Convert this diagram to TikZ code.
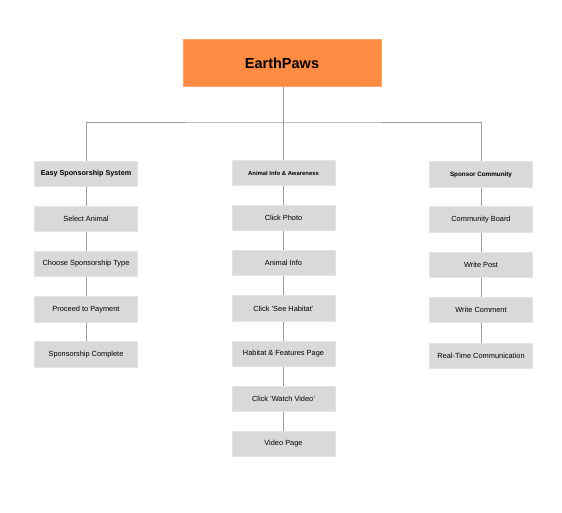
\documentclass[tikz,border=0pt]{standalone}
\usepackage{fontspec}
\setmainfont{Liberation Sans}
\definecolor{rootfill}{HTML}{FF8C42}
\definecolor{boxfill}{HTML}{D9D9D9}
\definecolor{boxline}{HTML}{E4E4E4}
\definecolor{conn}{HTML}{9A9A9A}
\newcommand{\sq}{{\char39}}
\begin{document}
\begin{tikzpicture}[x=1pt,y=-1pt,
  rootbox/.style={fill=rootfill,draw=rootfill!80!white,line width=0.6pt,minimum width=198pt,minimum height=47.5pt,inner sep=0pt,font=\fontsize{14.5}{16}\selectfont\bfseries},
  headbox/.style={fill=boxfill,draw=boxline,line width=0.6pt,minimum width=103pt,minimum height=25.5pt,inner sep=0pt,font=\fontsize{7.2}{8}\selectfont\bfseries},
  stepbox/.style={fill=boxfill,draw=boxline,line width=0.6pt,minimum width=103pt,minimum height=25.5pt,inner sep=0pt,font=\fontsize{7.4}{8}\selectfont},
  link/.style={draw=conn,line width=0.7pt}]
\useasboundingbox (0,0) rectangle (562,512);
\node[rootbox] (root) at (282,63) {EarthPaws};
\coordinate (bus) at (283,122);
% headers
\node[headbox] (h1) at (86,174) {Easy Sponsorship System};
\node[headbox,font=\fontsize{5.9}{7}\selectfont\bfseries] (h2) at (283.5,173) {Animal Info \& Awareness};
\node[headbox,font=\fontsize{6.3}{7}\selectfont\bfseries] (h3) at (481,174.5) {Sponsor Community};
% left column
\node[stepbox] (l1) at (86,219) {Select Animal};
\node[stepbox] (l2) at (86,264) {Choose Sponsorship Type};
\node[stepbox] (l3) at (86,309.5) {Proceed to Payment};
\node[stepbox] (l4) at (86,354.5) {Sponsorship Complete};
% middle column
\node[stepbox] (m1) at (283.5,218) {Click Photo};
\node[stepbox] (m2) at (283.5,263) {Animal Info};
\node[stepbox] (m3) at (283.5,308.5) {Click \sq See Habitat\sq};
\node[stepbox] (m4) at (283.5,353.7) {Habitat \& Features Page};
\node[stepbox] (m5) at (283.5,399) {Click \sq Watch Video\sq};
\node[stepbox] (m6) at (283.5,444) {Video Page};
% right column
\node[stepbox] (r1) at (481,219.5) {Community Board};
\node[stepbox] (r2) at (481,264.7) {Write Post};
\node[stepbox] (r3) at (481,310) {Write Comment};
\node[stepbox] (r4) at (481,356) {Real-Time Communication};
% connectors
\draw[link] (root.south -| bus) -- (bus);
\draw[link] (h1.north) |- (bus) -| (h3.north);
\draw[link] (bus) -- (bus |- h2.north);
\draw[link] (h1) -- (l1) -- (l2) -- (l3) -- (l4);
\draw[link] (h2) -- (m1) -- (m2) -- (m3) -- (m4) -- (m5) -- (m6);
\draw[link] (h3) -- (r1) -- (r2) -- (r3) -- (r4);
\end{tikzpicture}
\end{document}
